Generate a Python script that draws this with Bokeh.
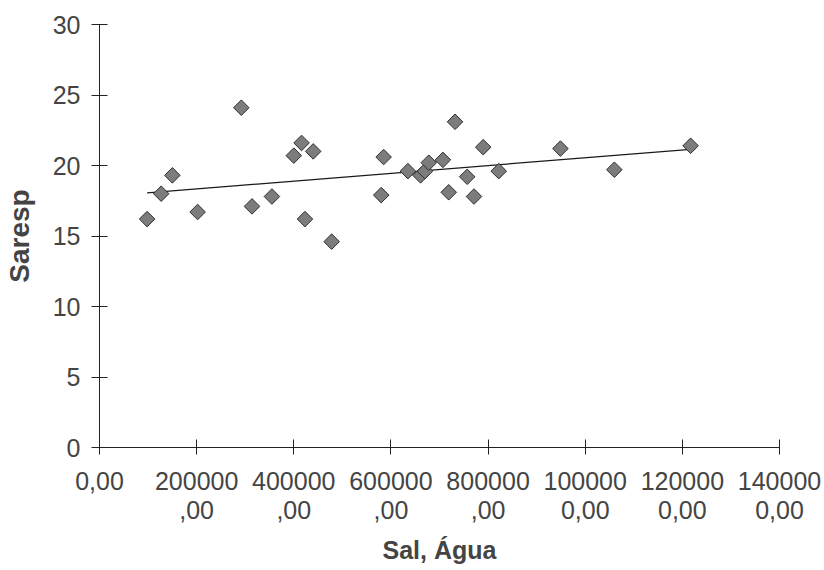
import numpy as np
from bokeh.plotting import figure
from bokeh.models import FixedTicker, Range1d
from bokeh.embed import file_html
from bokeh.resources import INLINE

# Data
sal_agua = [98000, 127000, 150000, 202000, 292000, 314000, 355000, 400000,
            416000, 440000, 423000, 478000, 585000, 580000, 635000, 661000,
            670000, 678000, 707000, 732000, 719000, 757000, 771000, 790000,
            822000, 949000, 1060000, 1217000]
saresp = [16.2, 18.0, 19.3, 16.7, 24.1, 17.1, 17.8, 20.7,
          21.6, 21.0, 16.2, 14.6, 20.6, 17.9, 19.6, 19.3,
          19.6, 20.2, 20.4, 23.1, 18.1, 19.2, 17.8, 21.3,
          19.6, 21.2, 19.7, 21.4]

x_ticks = [0, 200000, 400000, 600000, 800000, 1000000, 1200000, 1400000]
x_tick_labels = ["0,00", "200000\n,00", "400000\n,00", "600000\n,00",
                 "800000\n,00", "100000\n0,00", "120000\n0,00", "140000\n0,00"]
y_ticks = [0, 5, 10, 15, 20, 25, 30]
y_tick_labels = ["0", "5", "10", "15", "20", "25", "30"]

FONT = "Liberation Sans"

p = figure(width=824, height=570, output_backend="svg", toolbar_location=None,
           x_range=Range1d(0, 1400000), y_range=Range1d(0, 30),
           min_border_left=99, min_border_right=45, min_border_top=24,
           min_border_bottom=123)
p.outline_line_color = None
p.grid.visible = False
p.background_fill_color = "white"
p.border_fill_color = "white"

# Trend line (least squares from the data)
b, a = np.polyfit(sal_agua, saresp, 1)
xs = np.array([min(sal_agua), max(sal_agua)])
p.line(xs, a + b * xs, line_color="#1a1a1a", line_width=1.3)

p.scatter(sal_agua, saresp, marker="square", angle=np.pi / 4, size=11,
          fill_color="#7c7c7c", line_color="#303030", line_width=1)

xa = p.xaxis[0]
xa.ticker = FixedTicker(ticks=x_ticks)
xa.major_label_overrides = {t: l for t, l in zip(x_ticks, x_tick_labels)}
xa.axis_label = "Sal, Água"
xa.axis_label_text_font = FONT
xa.axis_label_text_font_style = "bold"
xa.axis_label_text_font_size = "25px"
xa.axis_label_standoff = 9
xa.major_label_text_font = FONT
xa.major_label_text_font_size = "25px"
xa.major_label_text_line_height = 1.05
xa.major_label_standoff = 12
xa.major_tick_in = 8
xa.major_tick_out = 7
xa.minor_tick_line_color = None
xa.axis_line_color = "#222222"
xa.major_tick_line_color = "#222222"

ya = p.yaxis[0]
ya.ticker = FixedTicker(ticks=y_ticks)
ya.major_label_overrides = {t: l for t, l in zip(y_ticks, y_tick_labels)}
ya.axis_label = "Saresp"
ya.axis_label_text_font = FONT
ya.axis_label_text_font_style = "bold"
ya.axis_label_text_font_size = "28px"
ya.axis_label_standoff = 15
ya.major_label_text_font = FONT
ya.major_label_text_font_size = "25px"
ya.major_label_standoff = 11
ya.major_label_orientation = "horizontal"
ya.major_tick_in = 8
ya.major_tick_out = 8
ya.minor_tick_line_color = None
ya.axis_line_color = "#222222"
ya.major_tick_line_color = "#222222"

open("out.html", "w").write(file_html(p, INLINE))
